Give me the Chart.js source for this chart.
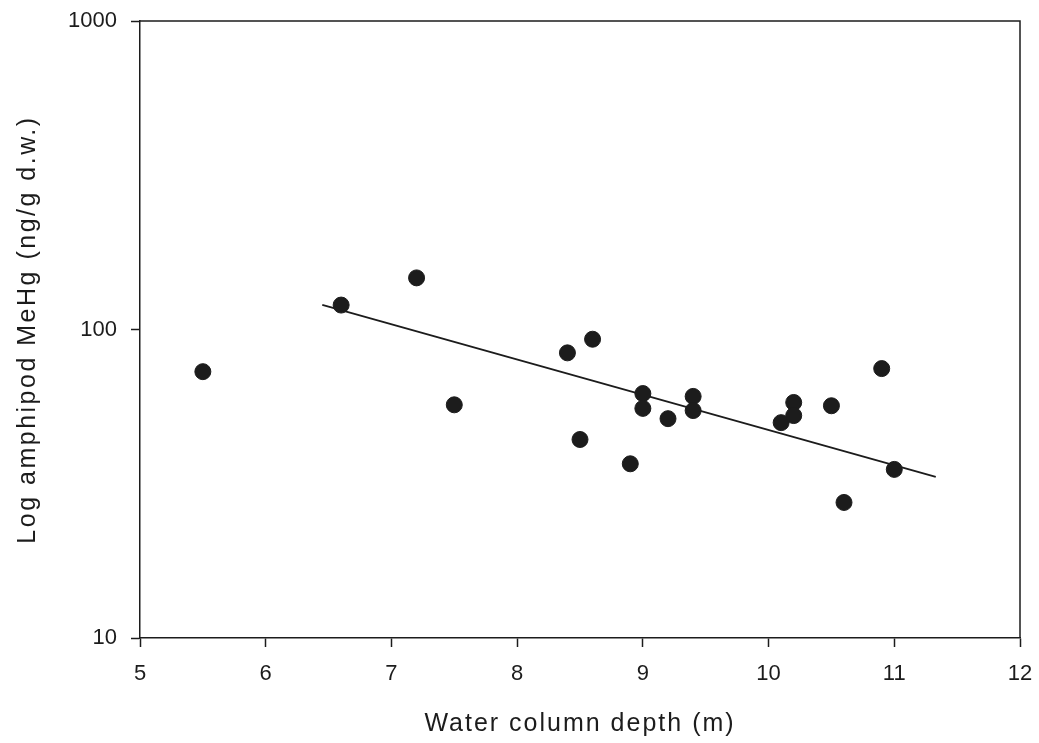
<!DOCTYPE html>
<html>
<head>
<meta charset="utf-8">
<script src="https://cdn.jsdelivr.net/npm/chart.js@4.4.1/dist/chart.umd.min.js"></script>
<style>
  html, body { margin: 0; padding: 0; background: #fff; }
  #wrap { width: 1039px; height: 743px; position: relative; }
</style>
</head>
<body>
<div id="wrap"><canvas id="depthChart"></canvas></div>
<script>
// water column depth (m) and amphipod MeHg (ng/g d.w.) per station
const depth = [5.5, 6.6, 7.2, 7.5, 8.4, 8.5, 8.6, 8.9, 9.0, 9.0, 9.2, 9.4, 9.4, 10.1, 10.2, 10.2, 10.5, 10.6, 10.9, 11.0];
const mehg = [73, 120, 147, 57, 84, 44, 93, 36.7, 62, 55.5, 51.4, 60.7, 54.6, 49.9, 58, 52.6, 56.6, 27.5, 74.7, 35.2];

// regression line end points
const fitDepth = [6.45, 11.33];
const fitMehg = [120.2, 33.3];

const yTicks = [10, 100, 1000];
const xTitle = 'Water column depth (m)';
const yTitle = 'Log amphipod MeHg (ng/g d.w.)';

const ink = '#1c1c1c';
const fontFamily = '"Liberation Sans", Arial, sans-serif';

// wider letter spacing on the axis titles only
const spacedTitles = {
  id: 'spacedTitles',
  beforeDraw(chart) {
    [['x', '2px'], ['y', '2.5px']].forEach(([id, spacing]) => {
      const scale = chart.scales[id];
      if (!scale || scale._spaced) return;
      const orig = scale.drawTitle.bind(scale);
      scale.drawTitle = function () {
        const ctx = this.ctx;
        const prev = ctx.letterSpacing;
        ctx.letterSpacing = spacing;
        orig();
        ctx.letterSpacing = prev;
      };
      scale._spaced = true;
    });
  }
};

// closed frame round the plot area
const frame = {
  id: 'frame',
  afterDraw(chart) {
    const { ctx, chartArea } = chart;
    ctx.save();
    ctx.strokeStyle = ink;
    ctx.lineWidth = 1.5;
    ctx.beginPath();
    ctx.moveTo(chartArea.left, chartArea.top);
    ctx.lineTo(chartArea.right, chartArea.top);
    ctx.lineTo(chartArea.right, chartArea.bottom);
    ctx.stroke();
    ctx.restore();
  }
};

const points = depth.map((d, i) => ({ x: d, y: mehg[i] }));
const fitPoints = fitDepth.map((d, i) => ({ x: d, y: fitMehg[i] }));

new Chart(document.getElementById('depthChart'), {
  type: 'scatter',
  data: {
    datasets: [
      {
        data: points,
        backgroundColor: ink,
        borderColor: ink,
        pointRadius: 8,
        pointHoverRadius: 8,
        order: 1
      },
      {
        type: 'line',
        data: fitPoints,
        borderColor: ink,
        borderWidth: 1.8,
        pointRadius: 0,
        fill: false,
        order: 2
      }
    ]
  },
  options: {
    responsive: true,
    maintainAspectRatio: false,
    animation: false,
    events: [],
    layout: { padding: { top: 21, right: 19, left: 0, bottom: 0 } },
    plugins: {
      legend: { display: false },
      tooltip: { enabled: false }
    },
    scales: {
      x: {
        type: 'linear',
        min: 5,
        max: 12,
        afterFit(scale) {
          scale.height = 105;
          scale.paddingLeft = 0;
          scale.paddingRight = 0;
        },
        ticks: {
          stepSize: 1,
          padding: 14,
          color: ink,
          font: { family: fontFamily, size: 22 }
        },
        grid: {
          drawOnChartArea: false,
          drawTicks: true,
          tickLength: 9,
          tickColor: ink,
          tickWidth: 1.5
        },
        border: { display: true, color: ink, width: 1.5 },
        title: {
          display: true,
          text: xTitle,
          color: ink,
          font: { family: fontFamily, size: 25 },
          padding: { top: 0, bottom: 4 }
        }
      },
      y: {
        type: 'logarithmic',
        min: 10,
        max: 1000,
        afterFit(scale) {
          scale.width = 140;
          scale.paddingTop = 0;
          scale.paddingBottom = 0;
        },
        afterBuildTicks(scale) { scale.ticks = yTicks.map(v => ({ value: v })); },
        ticks: {
          padding: 14,
          color: ink,
          font: { family: fontFamily, size: 22 },
          callback: v => String(v)
        },
        grid: {
          drawOnChartArea: false,
          drawTicks: true,
          tickLength: 9,
          tickColor: ink,
          tickWidth: 1.5
        },
        border: { display: true, color: ink, width: 1.5 },
        title: {
          display: true,
          text: yTitle,
          color: ink,
          font: { family: fontFamily, size: 25 },
          padding: { top: 13, bottom: 0 }
        }
      }
    }
  },
  plugins: [spacedTitles, frame]
});
</script>
</body>
</html>
